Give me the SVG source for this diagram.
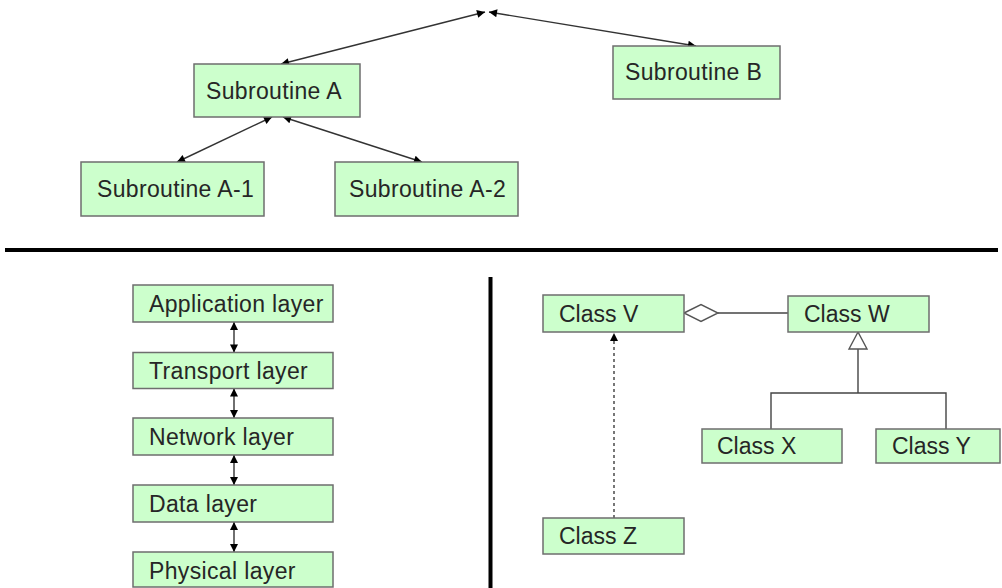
<svg xmlns="http://www.w3.org/2000/svg" width="1002" height="588" viewBox="0 0 1002 588">
  <style>
    .box { fill: #ccffcc; stroke: #6e6e6e; stroke-width: 1.5; }
    .lbl { font-family: "Liberation Sans", Arial, sans-serif; font-size: 23px; fill: #262626; }
    .wide { letter-spacing: 0.35px; }
    .conn { stroke: #333333; stroke-width: 1.4; fill: none; }
    .dash { stroke: #555555; stroke-width: 1.6; fill: none; stroke-dasharray: 3 3; }
    .uml { stroke: #444444; stroke-width: 1.4; fill: none; }
    .open { fill: #ffffff; stroke: #555555; stroke-width: 1.4; }
    .div { stroke: #000000; stroke-width: 4; }
  </style>
  <defs>
    <marker id="arr" viewBox="0 0 10 10" refX="10" refY="5" markerWidth="10" markerHeight="8" markerUnits="userSpaceOnUse" orient="auto-start-reverse">
      <path d="M0,0 L10,5 L0,10 z" fill="#000000"/>
    </marker>
  </defs>

  <rect width="1002" height="588" fill="#ffffff"/>

  <!-- dividers -->
  <g id="dividers">
    <line class="div" x1="5" y1="250" x2="998" y2="250"/>
    <line class="div" x1="490.5" y1="277" x2="490.5" y2="588"/>
  </g>

  <!-- connectors -->
  <g id="connectors">
    <line class="conn" x1="485" y1="12" x2="281" y2="64" marker-start="url(#arr)" marker-end="url(#arr)"/>
    <line class="conn" x1="489" y1="12" x2="696" y2="46" marker-start="url(#arr)" marker-end="url(#arr)"/>
    <line class="conn" x1="272" y1="117" x2="177" y2="162" marker-start="url(#arr)" marker-end="url(#arr)"/>
    <line class="conn" x1="283" y1="117" x2="422" y2="162" marker-start="url(#arr)" marker-end="url(#arr)"/>

    <line class="conn" x1="234" y1="322" x2="234" y2="352.5" marker-start="url(#arr)" marker-end="url(#arr)"/>
    <line class="conn" x1="234" y1="388.5" x2="234" y2="418" marker-start="url(#arr)" marker-end="url(#arr)"/>
    <line class="conn" x1="234" y1="455" x2="234" y2="485" marker-start="url(#arr)" marker-end="url(#arr)"/>
    <line class="conn" x1="234" y1="522" x2="234" y2="552" marker-start="url(#arr)" marker-end="url(#arr)"/>

    <line class="dash" x1="614" y1="518" x2="614" y2="333" marker-end="url(#arr)"/>
    <line class="uml" x1="718" y1="313" x2="788" y2="313"/>
    <polygon class="open" points="684,313 701,304.5 718,313 701,321.5"/>
    <line class="uml" x1="858" y1="349" x2="858" y2="393"/>
    <polyline class="uml" points="771,429 771,393 946,393 946,429"/>
    <polygon class="open" points="858,332 849,349 867,349"/>
  </g>

  <!-- call tree -->
  <g id="subA">
    <rect class="box" x="194" y="64" width="166" height="53"/>
    <text class="lbl wide" x="206" y="99">Subroutine A</text>
  </g>
  <g id="subB">
    <rect class="box" x="613" y="46" width="167" height="53"/>
    <text class="lbl wide" x="625" y="80">Subroutine B</text>
  </g>
  <g id="subA1">
    <rect class="box" x="81" y="162" width="183" height="54"/>
    <text class="lbl wide" x="97" y="197">Subroutine A-1</text>
  </g>
  <g id="subA2">
    <rect class="box" x="335" y="162" width="183" height="54"/>
    <text class="lbl wide" x="349" y="197">Subroutine A-2</text>
  </g>

  <!-- layers -->
  <g id="appLayer">
    <rect class="box" x="133" y="285" width="200" height="37"/>
    <text class="lbl wide" x="149" y="312">Application layer</text>
  </g>
  <g id="transportLayer">
    <rect class="box" x="133" y="352.5" width="200" height="36"/>
    <text class="lbl wide" x="149" y="379">Transport layer</text>
  </g>
  <g id="networkLayer">
    <rect class="box" x="133" y="418" width="200" height="37"/>
    <text class="lbl wide" x="149" y="445">Network layer</text>
  </g>
  <g id="dataLayer">
    <rect class="box" x="133" y="485" width="200" height="37"/>
    <text class="lbl wide" x="149" y="512">Data layer</text>
  </g>
  <g id="physicalLayer">
    <rect class="box" x="133" y="552" width="200" height="35"/>
    <text class="lbl wide" x="149" y="579">Physical layer</text>
  </g>

  <!-- classes -->
  <g id="classV">
    <rect class="box" x="543" y="295" width="141" height="37"/>
    <text class="lbl" x="559" y="322">Class V</text>
  </g>
  <g id="classW">
    <rect class="box" x="788" y="296" width="141" height="36"/>
    <text class="lbl" x="804" y="322">Class W</text>
  </g>
  <g id="classX">
    <rect class="box" x="702" y="429" width="140" height="34"/>
    <text class="lbl" x="717" y="454">Class X</text>
  </g>
  <g id="classY">
    <rect class="box" x="876" y="429" width="124" height="34"/>
    <text class="lbl" x="892" y="454">Class Y</text>
  </g>
  <g id="classZ">
    <rect class="box" x="543" y="518" width="141" height="36"/>
    <text class="lbl" x="559" y="544">Class Z</text>
  </g>
</svg>
